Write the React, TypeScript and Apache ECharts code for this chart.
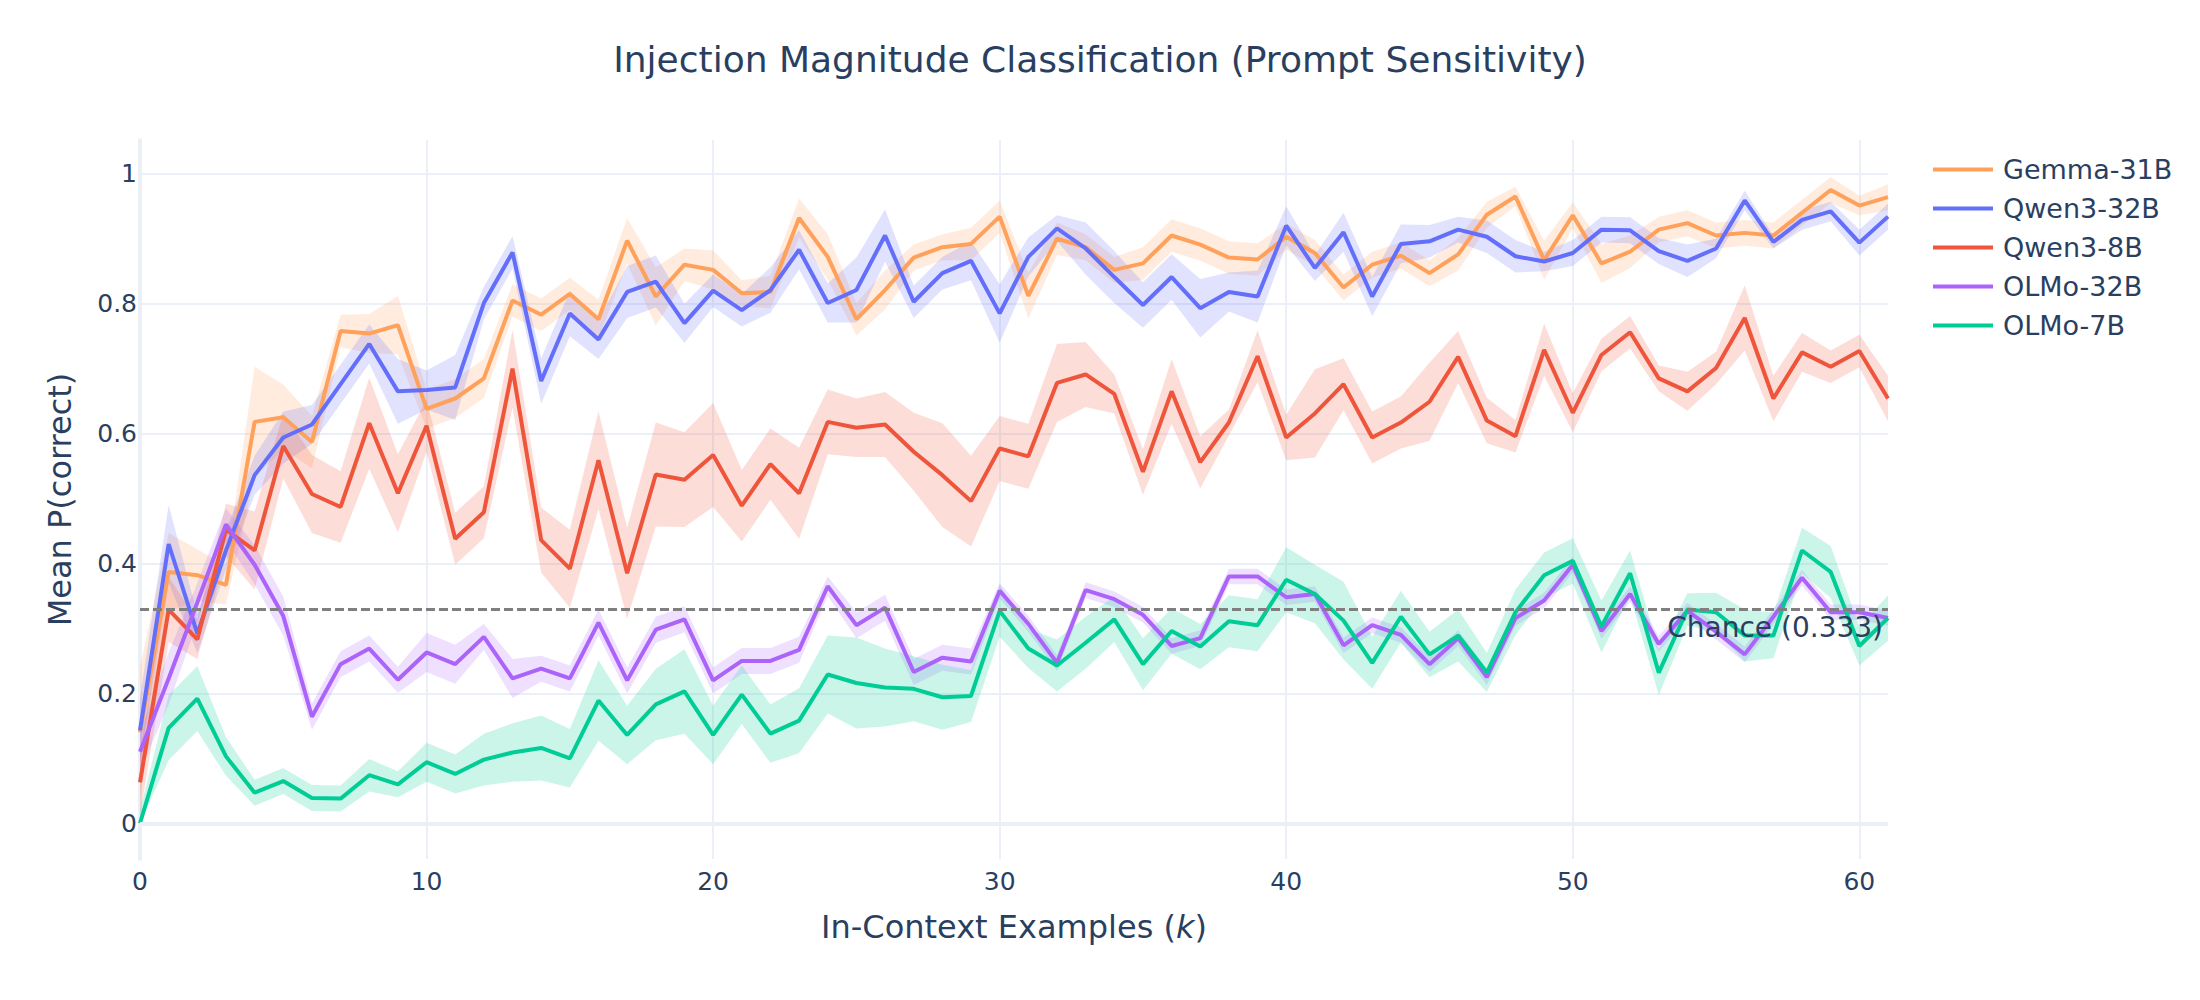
import { useEffect, useRef } from 'react'
import * as echarts from 'echarts'

// k = 0..61 in-context examples
const ks = Array.from({ length: 62 }, (_, i) => String(i))

const gemma31b = [
  0.14, 0.387, 0.382, 0.367, 0.618, 0.625, 0.587, 0.758, 0.754, 0.767,
  0.638, 0.654, 0.685, 0.805, 0.783, 0.815, 0.776, 0.897, 0.811, 0.86,
  0.852, 0.816, 0.818, 0.932, 0.872, 0.776, 0.821, 0.871, 0.887, 0.892,
  0.934, 0.812, 0.9, 0.887, 0.852, 0.862, 0.905, 0.891, 0.871, 0.868,
  0.903, 0.878, 0.825, 0.86, 0.874, 0.847, 0.876, 0.937, 0.965, 0.867,
  0.936, 0.862, 0.88, 0.914, 0.924, 0.905, 0.909, 0.905, 0.94, 0.975,
  0.951, 0.964,
]
const gemma31bErr = [
  0.1, 0.06, 0.04, 0.03, 0.085, 0.05, 0.04, 0.025, 0.03, 0.045,
  0.03, 0.03, 0.03, 0.025, 0.025, 0.025, 0.03, 0.035, 0.045, 0.025,
  0.03, 0.02, 0.025, 0.03, 0.035, 0.025, 0.03, 0.02, 0.02, 0.025,
  0.025, 0.035, 0.025, 0.02, 0.02, 0.025, 0.025, 0.025, 0.025, 0.025,
  0.02, 0.02, 0.02, 0.02, 0.02, 0.02, 0.025, 0.02, 0.015, 0.03,
  0.02, 0.03, 0.025, 0.02, 0.02, 0.02, 0.02, 0.02, 0.02, 0.02,
  0.015, 0.02,
]

const qwen32b = [
  0.143, 0.43, 0.292, 0.42, 0.536, 0.594, 0.614, 0.676, 0.738, 0.665,
  0.667, 0.671, 0.801, 0.879, 0.681, 0.785, 0.745, 0.818, 0.834, 0.77,
  0.82, 0.79, 0.821, 0.883, 0.801, 0.821, 0.905, 0.803, 0.847, 0.866,
  0.785, 0.872, 0.916, 0.885, 0.841, 0.798, 0.841, 0.793, 0.818, 0.811,
  0.92, 0.855, 0.91, 0.811, 0.892, 0.896, 0.914, 0.903, 0.873, 0.865,
  0.878, 0.914, 0.913, 0.881, 0.866, 0.885, 0.959, 0.895, 0.929, 0.942,
  0.894, 0.934,
]
const qwen32bErr = [
  0.05, 0.06, 0.03, 0.03, 0.03, 0.04, 0.03, 0.03, 0.03, 0.05,
  0.03, 0.05, 0.025, 0.025, 0.035, 0.035, 0.03, 0.04, 0.04, 0.03,
  0.025, 0.025, 0.035, 0.03, 0.03, 0.05, 0.04, 0.025, 0.025, 0.03,
  0.045, 0.03, 0.02, 0.04, 0.04, 0.035, 0.035, 0.045, 0.03, 0.04,
  0.03, 0.02, 0.03, 0.03, 0.03, 0.025, 0.02, 0.025, 0.025, 0.015,
  0.02, 0.02, 0.02, 0.02, 0.025, 0.015, 0.015, 0.01, 0.015, 0.015,
  0.02, 0.02,
]

const qwen8b = [
  0.063, 0.329, 0.283, 0.452, 0.42, 0.581, 0.507, 0.487, 0.616, 0.508,
  0.612, 0.438, 0.479, 0.7, 0.436, 0.392, 0.559, 0.385, 0.537, 0.529,
  0.567, 0.489, 0.553, 0.508, 0.618, 0.609, 0.614, 0.572, 0.536, 0.496,
  0.577, 0.565, 0.678, 0.691, 0.661, 0.541, 0.665, 0.556, 0.617, 0.719,
  0.594, 0.631, 0.676, 0.594, 0.617, 0.649, 0.718, 0.62, 0.596, 0.729,
  0.632, 0.721, 0.756, 0.685, 0.665, 0.701, 0.778, 0.654, 0.725, 0.703,
  0.727, 0.654,
]
const qwen8bErr = [
  0.05, 0.05, 0.03, 0.04, 0.06, 0.05, 0.06, 0.055, 0.07, 0.06,
  0.04, 0.04, 0.04, 0.06, 0.05, 0.06, 0.075, 0.07, 0.08, 0.073,
  0.08, 0.055, 0.055, 0.07, 0.05, 0.045, 0.05, 0.06, 0.08, 0.07,
  0.05, 0.05, 0.06, 0.05, 0.03, 0.035, 0.05, 0.04, 0.02, 0.04,
  0.035, 0.068, 0.04, 0.04, 0.04, 0.06, 0.04, 0.035, 0.025, 0.04,
  0.03, 0.025, 0.025, 0.02, 0.03, 0.025, 0.05, 0.035, 0.03, 0.025,
  0.025, 0.035,
]

const olmo32b = [
  0.11, 0.223, 0.34, 0.46, 0.398, 0.319, 0.164, 0.245, 0.269, 0.221,
  0.263, 0.245, 0.287, 0.223, 0.238, 0.223, 0.309, 0.22, 0.298, 0.314,
  0.22, 0.25, 0.25, 0.267, 0.365, 0.305, 0.332, 0.233, 0.255, 0.249,
  0.358, 0.307, 0.247, 0.359, 0.345, 0.321, 0.273, 0.285, 0.38, 0.38,
  0.348, 0.353, 0.274, 0.305, 0.29, 0.245, 0.285, 0.225, 0.316, 0.343,
  0.398, 0.296, 0.353, 0.276, 0.327, 0.295, 0.26, 0.318, 0.378, 0.325,
  0.325, 0.316,
]
const olmo32bErr = [
  0.03, 0.04, 0.03, 0.025, 0.03, 0.03, 0.02, 0.02, 0.02, 0.02,
  0.03, 0.03, 0.02, 0.03, 0.02, 0.02, 0.02, 0.02, 0.02, 0.02,
  0.02, 0.02, 0.02, 0.02, 0.015, 0.02, 0.02, 0.02, 0.02, 0.02,
  0.012, 0.012, 0.012, 0.012, 0.012, 0.012, 0.012, 0.012, 0.012, 0.012,
  0.012, 0.012, 0.012, 0.012, 0.012, 0.012, 0.012, 0.012, 0.012, 0.012,
  0.012, 0.012, 0.012, 0.012, 0.012, 0.012, 0.012, 0.012, 0.012, 0.012,
  0.012, 0.012,
]

const olmo7b = [
  0.0, 0.147, 0.192, 0.103, 0.047, 0.065, 0.039, 0.038, 0.074, 0.06,
  0.094, 0.076, 0.098, 0.109, 0.116, 0.1, 0.189, 0.136, 0.183, 0.203,
  0.136, 0.198, 0.138, 0.158, 0.229, 0.216, 0.209, 0.207, 0.194, 0.196,
  0.327, 0.269, 0.243, 0.278, 0.314, 0.245, 0.296, 0.272, 0.311, 0.305,
  0.375, 0.353, 0.312, 0.247, 0.318, 0.26, 0.289, 0.232, 0.325, 0.382,
  0.404, 0.303, 0.385, 0.232, 0.329, 0.325, 0.289, 0.289, 0.42, 0.387,
  0.273, 0.316,
]
const olmo7bErr = [
  0.01, 0.05, 0.05, 0.03, 0.02, 0.02, 0.02, 0.02, 0.025, 0.02,
  0.03, 0.03, 0.04, 0.045, 0.05, 0.045, 0.062, 0.045, 0.055, 0.065,
  0.045, 0.045, 0.045, 0.05, 0.06, 0.07, 0.06, 0.05, 0.05, 0.04,
  0.04, 0.03, 0.04, 0.04, 0.035, 0.04, 0.035, 0.035, 0.04, 0.04,
  0.05, 0.045, 0.06, 0.04, 0.04, 0.035, 0.04, 0.03, 0.035, 0.035,
  0.035, 0.04, 0.035, 0.035, 0.025, 0.03, 0.04, 0.035, 0.035, 0.04,
  0.03, 0.035,
]

const CHANCE = 0.333

const models = [
  { name: 'Gemma-31B', mean: gemma31b, err: gemma31bErr, color: '#FFA15A', band: 'rgba(255,161,90,0.2)' },
  { name: 'Qwen3-32B', mean: qwen32b, err: qwen32bErr, color: '#636EFA', band: 'rgba(99,110,250,0.2)' },
  { name: 'Qwen3-8B', mean: qwen8b, err: qwen8bErr, color: '#EF553B', band: 'rgba(239,85,59,0.2)' },
  { name: 'OLMo-32B', mean: olmo32b, err: olmo32bErr, color: '#AB63FA', band: 'rgba(171,99,250,0.2)' },
  { name: 'OLMo-7B', mean: olmo7b, err: olmo7bErr, color: '#00CC96', band: 'rgba(0,204,150,0.2)' },
]

const FONT = 'DejaVu Sans'
const TEXT = '#2a3f5f'
const GRID = '#EBF0F8'

export default function App() {
  const chartRef = useRef<HTMLDivElement>(null)

  useEffect(() => {
    document.body.style.margin = '0'
    if (!chartRef.current) return
    const chart = echarts.init(chartRef.current, undefined, { renderer: 'svg' })

    // 误差带：下界 + (上界-下界) 堆叠
    const bandSeries = models.flatMap((m, i) => [
      {
        name: m.name + '-lo',
        type: 'line',
        stack: 'band' + i,
        data: m.mean.map((v, j) => v - m.err[j]),
        symbol: 'none',
        lineStyle: { opacity: 0 },
        silent: true,
        z: 1,
        ...(i === 0
          ? {
              markLine: {
                silent: true,
                symbol: 'none',
                label: { show: false },
                lineStyle: { color: GRID, width: 4, type: 'solid' },
                data: [{ yAxis: 0 }],
              },
            }
          : {}),
      },
      {
        name: m.name + '-hi',
        type: 'line',
        stack: 'band' + i,
        data: m.err.map((e) => 2 * e),
        symbol: 'none',
        lineStyle: { opacity: 0 },
        areaStyle: { color: m.band, opacity: 1 },
        silent: true,
        z: 1,
      },
    ])

    const lineSeries = models.map((m, i) => ({
      name: m.name,
      type: 'line',
      data: m.mean,
      symbol: 'none',
      showSymbol: false,
      lineStyle: { color: m.color, width: 4 },
      itemStyle: { color: m.color },
      z: 3,
      ...(i === models.length - 1
        ? {
            markLine: {
              silent: true,
              symbol: 'none',
              lineStyle: { color: '#7f7f7f', width: 3, type: [9, 4] },
              label: {
                show: true,
                position: 'insideEndBottom',
                formatter: 'Chance (0.333)',
                fontFamily: FONT,
                fontSize: 28,
                color: TEXT,
                distance: 5,
              },
              data: [{ yAxis: CHANCE }],
            },
          }
        : {}),
    }))

    const option: any = {
      animation: false,
      backgroundColor: '#fff',
      textStyle: { fontFamily: FONT },
      title: {
        text: 'Injection Magnitude Classification (Prompt Sensitivity)',
        left: 'center',
        top: 36,
        textStyle: { fontFamily: FONT, fontSize: 36, fontWeight: 'normal', color: TEXT },
      },
      legend: {
        orient: 'vertical',
        left: 1933,
        top: 156,
        icon: 'rect',
        itemWidth: 60,
        itemHeight: 4,
        itemGap: 12,
        padding: 0,
        data: models.map((m) => m.name),
        textStyle: {
          fontFamily: FONT,
          fontSize: 27,
          lineHeight: 27,
          color: TEXT,
          padding: [0, 0, 0, 5],
        },
      },
      grid: { left: 140, right: 312, top: 140, bottom: 141 },
      xAxis: {
        type: 'category',
        data: ks,
        boundaryGap: false,
        name: 'In-Context Examples ({i|k})',
        nameLocation: 'middle',
        nameGap: 52,
        nameTextStyle: {
          fontFamily: FONT,
          fontSize: 32,
          color: TEXT,
          rich: { i: { fontFamily: FONT, fontSize: 32, color: TEXT, fontStyle: 'italic' } },
        },
        axisLine: { show: false },
        axisTick: { show: false },
        axisLabel: { interval: 9, fontFamily: FONT, fontSize: 25, color: TEXT, margin: 10 },
        splitLine: { show: true, interval: 9, lineStyle: { color: GRID, width: 2 } },
      },
      yAxis: {
        type: 'value',
        min: -0.055,
        max: 1.052,
        splitNumber: 5,
        name: 'Mean P(correct)',
        nameLocation: 'middle',
        nameRotate: 90,
        nameGap: 64,
        nameTextStyle: { fontFamily: FONT, fontSize: 32, color: TEXT },
        axisLine: { show: true, lineStyle: { color: GRID, width: 4 } },
        axisTick: { show: false },
        axisLabel: {
          fontFamily: FONT,
          fontSize: 25,
          color: TEXT,
          margin: 3,
          showMinLabel: false,
          showMaxLabel: false,
        },
        splitLine: {
          show: true,
          showMinLine: false,
          showMaxLine: false,
          lineStyle: { color: GRID, width: 2 },
        },
      },
      series: [...bandSeries, ...lineSeries],
    }

    chart.setOption(option)
    return () => chart.dispose()
  }, [])

  return <div ref={chartRef} style={{ width: 2200, height: 1000 }} />
}
